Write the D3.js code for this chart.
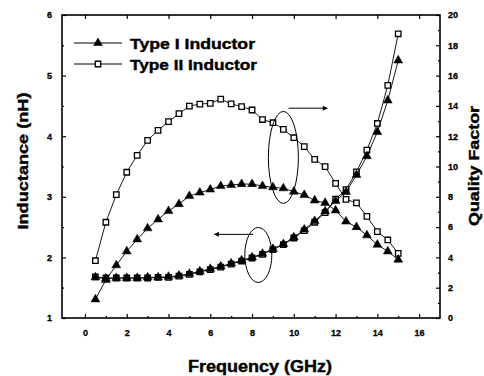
<!DOCTYPE html>
<html><head><meta charset="utf-8">
<script src="https://cdn.jsdelivr.net/npm/d3@7"></script>
<style>
html,body{margin:0;padding:0;background:#fff;}
text{font-family:"Liberation Sans",Arial,sans-serif;font-weight:bold;fill:#000;}
.heavy{stroke:#000;stroke-width:0.4px;}
</style></head>
<body><svg id="c" width="484" height="376"></svg>
<script>
const freq = [0.5,1,1.5,2,2.5,3,3.5,4,4.5,5,5.5,6,6.5,7,7.5,8,8.5,9,9.5,10,10.5,11,11.5,12,12.5,13,13.5,14,14.5,15];
const indType1 = [1.67,1.65,1.66,1.66,1.66,1.67,1.67,1.68,1.70,1.73,1.77,1.81,1.85,1.90,1.95,2.00,2.06,2.14,2.22,2.33,2.46,2.60,2.76,2.93,3.08,3.36,3.67,4.07,4.59,5.25];
const indType2 = [1.68,1.66,1.66,1.66,1.66,1.66,1.67,1.67,1.69,1.72,1.76,1.80,1.84,1.89,1.94,1.99,2.05,2.13,2.21,2.32,2.44,2.58,2.74,2.96,3.12,3.41,3.77,4.21,4.84,5.69];
const qType1 = [1.23,2.52,3.48,4.40,5.19,5.92,6.51,7.06,7.52,8.05,8.28,8.48,8.71,8.78,8.84,8.84,8.71,8.63,8.56,8.34,8.12,7.76,7.60,7.10,6.37,6.00,5.46,4.84,4.40,3.85];
const qType2 = [3.78,6.32,8.14,9.62,10.74,11.73,12.39,12.96,13.49,13.99,14.12,14.17,14.45,14.13,13.95,13.73,13.10,12.89,12.45,11.90,11.31,10.47,9.99,8.89,7.83,7.60,6.71,5.70,5.15,4.27];
const xTicks = [0,2,4,6,8,10,12,14,16];
const yLeftTicks = [1,2,3,4,5,6];
const yRightTicks = [0,2,4,6,8,10,12,14,16,18,20];
const legendLabels = ["Type I Inductor","Type II Inductor"];

const svg = d3.select("#c");
const L=62,R=440,T=15,B=318;
const x = d3.scaleLinear().domain([-1.1,17]).range([L,R]);
const yL = d3.scaleLinear().domain([1,6]).range([B,T]);
const yR = d3.scaleLinear().domain([0,20]).range([B,T]);

svg.append("rect").attr("x",L).attr("y",T).attr("width",R-L).attr("height",B-T)
  .attr("fill","none").attr("stroke","#000").attr("stroke-width",1.6);

function styleAxis(g){
  g.select(".domain").remove();
  g.selectAll(".tick line").attr("stroke","#000").attr("stroke-width",1.2);
  g.selectAll(".tick text").style("font-size","9px").attr("class","heavy").style("stroke-width","0.3px");
}
svg.append("g").attr("transform",`translate(0,${B})`)
  .call(d3.axisBottom(x).tickValues(xTicks).tickSize(-4).tickPadding(12).tickFormat(d3.format("d")))
  .call(styleAxis);
svg.append("g").attr("transform",`translate(0,${B})`)
  .call(d3.axisBottom(x).tickValues(d3.range(1,17,2)).tickSize(-2).tickFormat(""))
  .call(styleAxis);
svg.append("g").attr("transform",`translate(0,${T})`)
  .call(d3.axisTop(x).tickValues(xTicks).tickSize(-4).tickFormat(""))
  .call(styleAxis);
svg.append("g").attr("transform",`translate(${L},0)`)
  .call(d3.axisLeft(yL).tickValues(yLeftTicks).tickSize(-4).tickPadding(10).tickFormat(d3.format("d")))
  .call(styleAxis);
svg.append("g").attr("transform",`translate(${L},0)`)
  .call(d3.axisLeft(yL).tickValues([1.5,2.5,3.5,4.5,5.5]).tickSize(-2).tickFormat(""))
  .call(styleAxis);
svg.append("g").attr("transform",`translate(${R},0)`)
  .call(d3.axisRight(yR).tickValues(yRightTicks).tickSize(-4).tickPadding(8).tickFormat(d3.format("d")))
  .call(styleAxis);
svg.append("g").attr("transform",`translate(${R},0)`)
  .call(d3.axisRight(yR).tickValues(d3.range(1,20,2)).tickSize(-2).tickFormat(""))
  .call(styleAxis);

// titles
svg.append("text").attr("class","heavy").attr("x",260).attr("y",372).attr("text-anchor","middle")
  .attr("textLength",144).attr("lengthAdjust","spacingAndGlyphs")
  .style("font-size","16px").text("Frequency (GHz)");
svg.append("text").attr("class","heavy").attr("transform",`translate(28,161) rotate(-90)`).attr("text-anchor","middle")
  .attr("textLength",137).attr("lengthAdjust","spacingAndGlyphs")
  .style("font-size","15px").text("Inductance (nH)");
svg.append("text").attr("class","heavy").attr("transform",`translate(479,166) rotate(-90)`).attr("text-anchor","middle")
  .attr("textLength",120).attr("lengthAdjust","spacingAndGlyphs")
  .style("font-size","14px").text("Quality Factor");

const tri = d3.symbol().type(d3.symbolTriangle).size(34);
const sq = d3.symbol().type(d3.symbolSquare).size(30);
function series(vals, ys, filled){
  const pts = freq.map((f,i)=>[x(f), ys(vals[i])]);
  svg.append("path").attr("d", d3.line()(pts)).attr("fill","none").attr("stroke","#000").attr("stroke-width",0.9);
  svg.append("g").selectAll("path").data(pts).join("path")
    .attr("transform",d=>`translate(${d[0]},${d[1]})`)
    .attr("d", filled ? tri() : sq())
    .attr("fill", filled ? "#000" : "#fff")
    .attr("stroke","#000").attr("stroke-width", filled?0.5:1.3);
}
series(qType2, yR, false);
series(indType2, yL, false);
series(qType1, yR, true);
series(indType1, yL, true);

// legend
const legY = [43,64];
const legLen = [125,127];
legendLabels.forEach((lab,i)=>{
  svg.append("line").attr("x1",74).attr("x2",122).attr("y1",legY[i]).attr("y2",legY[i])
    .attr("stroke","#000").attr("stroke-width",1);
  svg.append("path").attr("transform",`translate(98,${legY[i]})`)
    .attr("d", i===0 ? tri() : sq())
    .attr("fill", i===0 ? "#000" : "#fff").attr("stroke","#000").attr("stroke-width", i===0?0.5:1.3);
  svg.append("text").attr("class","heavy").attr("x",130).attr("y",legY[i]+5.5)
    .attr("textLength",legLen[i]).attr("lengthAdjust","spacingAndGlyphs")
    .style("font-size","15px").text(lab);
});

// annotations
svg.append("defs").append("marker").attr("id","ah").attr("viewBox","0 0 10 10")
  .attr("refX",9).attr("refY",5).attr("markerWidth",6).attr("markerHeight",5).attr("orient","auto")
  .append("path").attr("d","M0,0L10,5L0,10z").attr("fill","#000");
svg.append("ellipse").attr("cx",x(9.5)).attr("cy",yR(10.6)).attr("rx",15).attr("ry",46)
  .attr("fill","none").attr("stroke","#000").attr("stroke-width",1);
svg.append("line").attr("x1",x(9.75)).attr("x2",x(11.6)).attr("y1",yR(13.85)).attr("y2",yR(13.85))
  .attr("stroke","#000").attr("stroke-width",1).attr("marker-end","url(#ah)");
svg.append("ellipse").attr("cx",x(8.3)).attr("cy",yL(2.04)).attr("rx",13.5).attr("ry",27.5)
  .attr("fill","none").attr("stroke","#000").attr("stroke-width",1);
svg.append("line").attr("x1",x(8.05)).attr("x2",x(6.2)).attr("y1",yL(2.38)).attr("y2",yL(2.38))
  .attr("stroke","#000").attr("stroke-width",1).attr("marker-end","url(#ah)");
</script></body></html>
